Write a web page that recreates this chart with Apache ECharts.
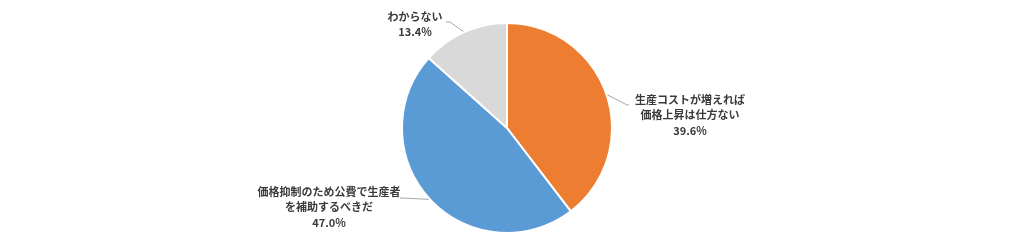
<!DOCTYPE html>
<html><head><meta charset="utf-8">
<script src="https://cdn.jsdelivr.net/npm/echarts@6/dist/echarts.min.js"></script>
<style>html,body{margin:0;padding:0;background:#fff}#c{width:1024px;height:251px}</style>
</head><body><div id="c"></div>
<script>
const categories = ['生産コストが増えれば\n価格上昇は仕方ない', '価格抑制のため公費で生産者\nを補助するべきだ', 'わからない'];
const values = [39.6, 47.0, 13.4];
const colors = ['#ED7D31', '#5B9BD5', '#D9D9D9'];

// label anchor positions (text centre x, text top y) and leader-line end points
const labelPos = [
  {x: 690, y: 92, mid: [627, 105], end: [629, 105]},
  {x: 329, y: 184, mid: [402, 198], end: [400, 198]},
  {x: 415, y: 9, mid: [450, 22], end: [446, 22]}
];

const chart = echarts.init(document.getElementById('c'), null, {renderer: 'canvas'});
chart.setOption({
  animation: false,
  series: [{
    type: 'pie',
    center: [507, 128],
    radius: [0, 105],
    startAngle: 90,
    clockwise: true,
    data: categories.map((n, i) => ({name: n, value: values[i], itemStyle: {color: colors[i]}})),
    itemStyle: {borderColor: '#fff', borderWidth: 2},
    label: {
      show: true,
      position: 'outside',
      formatter: p => p.name + '\n' + p.value.toFixed(1) + '%',
      fontFamily: '"Noto Sans CJK JP"',
      fontSize: 11,
      fontWeight: 'bold',
      color: '#3a3a3a',
      lineHeight: 15.5,
      align: 'center'
    },
    labelLine: {show: true, length: 10, length2: 10, smooth: false, lineStyle: {color: '#a6a6a6', width: 1}},
    labelLayout: function (params) {
      const lp = labelPos[params.dataIndex];
      const start = params.labelLinePoints ? params.labelLinePoints[0] : lp.end;
      return {
        x: lp.x, y: lp.y, align: 'center', verticalAlign: 'top',
        labelLinePoints: [start, lp.mid, lp.end]
      };
    }
  }]
});
</script></body></html>
